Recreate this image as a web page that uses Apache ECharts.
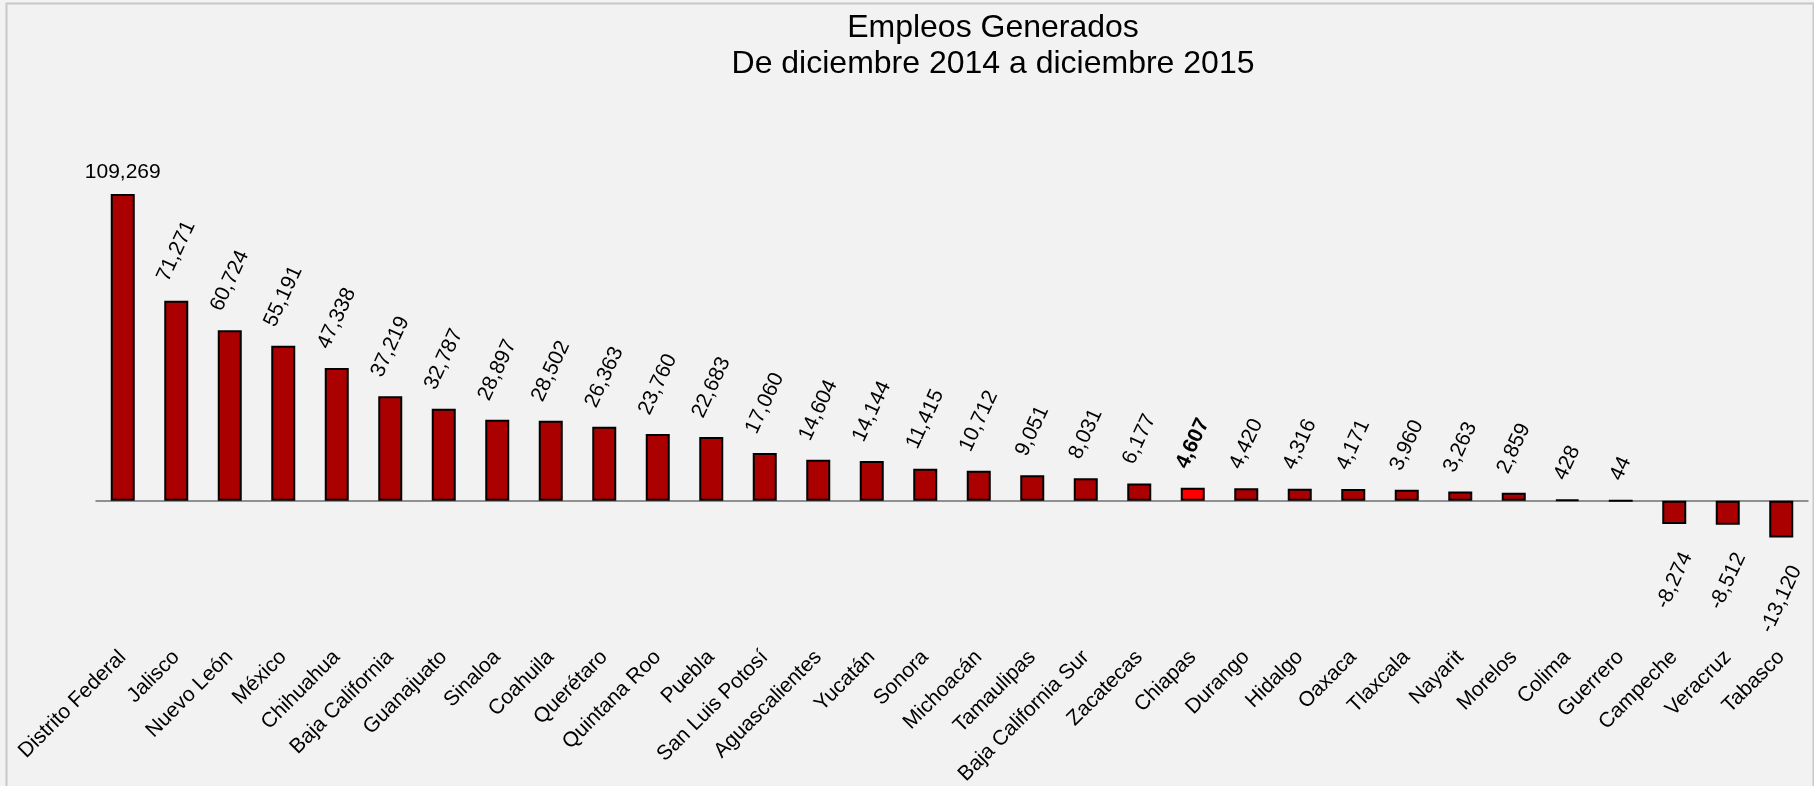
<!DOCTYPE html>
<html>
<head>
<meta charset="utf-8">
<title>Empleos Generados</title>
<script src="https://cdn.jsdelivr.net/npm/echarts@6/dist/echarts.min.js"></script>
<style>
  html, body { margin: 0; padding: 0; background: #f2f2f2; }
  #chart { width: 1814px; height: 786px; }
</style>
</head>
<body>
<div id="chart"></div>
<script>
// datos
const estados = [
  'Distrito Federal', 'Jalisco', 'Nuevo León', 'México', 'Chihuahua', 'Baja California',
  'Guanajuato', 'Sinaloa', 'Coahuila', 'Querétaro', 'Quintana Roo', 'Puebla',
  'San Luis Potosí', 'Aguascalientes', 'Yucatán', 'Sonora', 'Michoacán', 'Tamaulipas',
  'Baja California Sur', 'Zacatecas', 'Chiapas', 'Durango', 'Hidalgo', 'Oaxaca',
  'Tlaxcala', 'Nayarit', 'Morelos', 'Colima', 'Guerrero', 'Campeche', 'Veracruz', 'Tabasco'
]
const empleos = [
  109269, 71271, 60724, 55191, 47338, 37219,
  32787, 28897, 28502, 26363, 23760, 22683,
  17060, 14604, 14144, 11415, 10712, 9051,
  8031, 6177, 4607, 4420, 4316, 4171,
  3960, 3263, 2859, 428, 44, -8274, -8512, -13120
]
const destacado = 'Chiapas'

const FONT = '"Liberation Sans", Arial, sans-serif'
const LABEL_SIZE = 21
const ANGLE = 65

// ancho aproximado del texto (métricas tipo Arial)
const textWidth = (s, size) => {
  let w = 0
  for (const ch of s) {
    if (ch === ',') w += 0.278
    else if (ch === '-') w += 0.333
    else w += 0.556
  }
  return w * size
}

const fmt = (v) => v.toLocaleString('en-US')

// construir los datos de la serie
const rad = ANGLE * Math.PI / 180
const seriesData = empleos.map((v, i) => {
  const txt = fmt(v)
  const isMain = estados[i] === destacado
  const item = {
    value: v,
    itemStyle: { color: isMain ? '#ff0000' : '#aa0000' }
  }
  if (i === 0) {
    item.label = { position: 'top', rotate: 0, distance: 11, align: 'center', verticalAlign: 'bottom' }
  } else {
    // medio alto de la etiqueta girada
    const half = (textWidth(txt, LABEL_SIZE) * Math.sin(rad) + LABEL_SIZE * Math.cos(rad)) / 2
    item.label = {
      position: v >= 0 ? 'top' : 'bottom',
      rotate: ANGLE,
      align: 'center',
      verticalAlign: 'middle',
      distance: (v >= 0 ? 16 : 25) + half,
      fontWeight: isMain ? 'bold' : 'normal'
    }
  }
  return item
})

const chart = echarts.init(document.getElementById('chart'))

const option = {
  backgroundColor: '#f2f2f2',
  animation: false,
  title: {
    text: 'Empleos Generados\nDe diciembre 2014 a diciembre 2015',
    left: 988,
    top: 5,
    textAlign: 'center',
    textStyle: {
      fontFamily: FONT,
      fontSize: 32,
      fontWeight: 'normal',
      color: '#000',
      lineHeight: 36
    }
  },
  graphic: [
    {
      type: 'rect',
      left: 4,
      top: 1,
      z: -1,
      shape: { width: 1807, height: 800 },
      style: { fill: 'none', stroke: '#c8c8c8', lineWidth: 2 }
    }
  ],
  grid: {
    left: 96,
    right: 6,
    top: 164,
    bottom: 173,
    outerBoundsMode: 'none'
  },
  xAxis: {
    type: 'category',
    data: estados,
    axisLine: { onZero: true, lineStyle: { color: '#707070', width: 1.5 } },
    axisTick: { inside: true, length: 6, lineStyle: { color: '#404040', width: 1.5 } },
    axisLabel: {
      interval: 0,
      rotate: 45,
      margin: 41,
      fontFamily: FONT,
      fontSize: LABEL_SIZE,
      color: '#000'
    }
  },
  yAxis: {
    type: 'value',
    show: false,
    min: -40000,
    max: 120000,
    splitLine: { show: false }
  },
  series: [
    {
      type: 'bar',
      data: seriesData,
      barWidth: 24,
      itemStyle: { borderColor: '#000', borderWidth: 2 },
      label: {
        show: true,
        fontFamily: FONT,
        fontSize: LABEL_SIZE,
        color: '#000',
        formatter: (p) => fmt(p.value)
      }
    }
  ]
}

chart.setOption(option)
</script>
</body>
</html>
